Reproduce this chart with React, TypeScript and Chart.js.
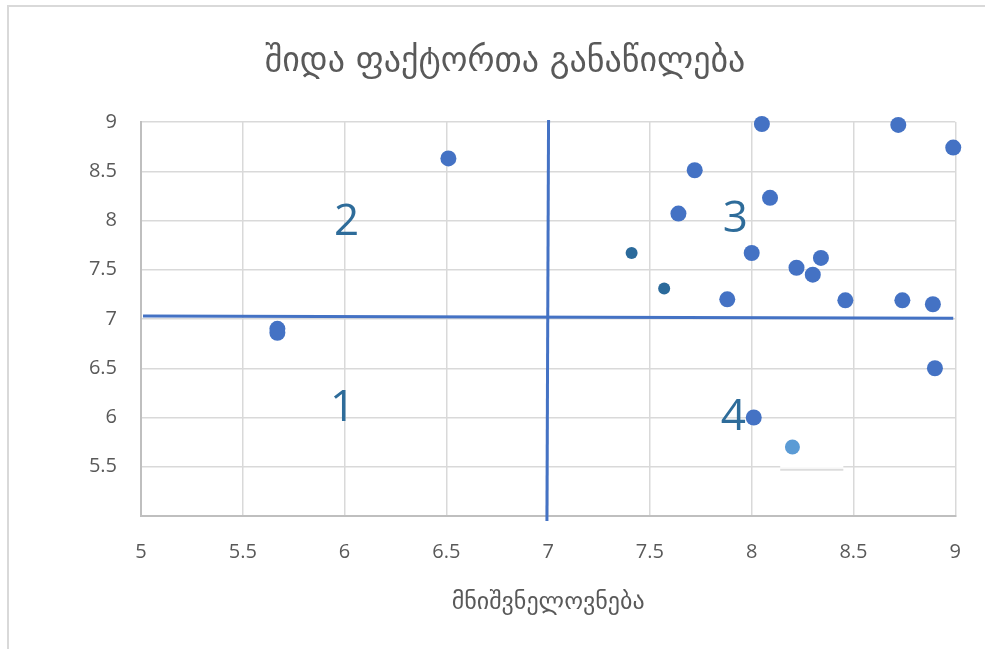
import React, { useEffect, useRef } from "react";
import { Chart, registerables } from "chart.js";

Chart.register(...registerables);

const TITLE = "შიდა ფაქტორთა განაწილება";
const X_TITLE = "მნიშვნელოვნება";

const mainX = [6.51, 5.67, 5.67, 8.05, 8.72, 8.99, 7.72, 7.64, 8.09, 8.0, 7.88, 8.22, 8.34, 8.3, 8.46, 8.74, 8.89, 8.9, 8.01];
const mainY = [8.63, 6.9, 6.86, 8.98, 8.97, 8.74, 8.51, 8.07, 8.23, 7.67, 7.2, 7.52, 7.62, 7.45, 7.19, 7.19, 7.15, 6.5, 6.0];
const smallX = [7.41, 7.57];
const smallY = [7.67, 7.31];
const lightX = [8.2];
const lightY = [5.7];

const hLineX = [5.01, 8.99];
const hLineY = [7.03, 7.007];
const vLineX = [7.002, 6.994];
const vLineY = [9.02, 4.95];

const quadLabels = ["1", "2", "3", "4"];
const quadX = [5.99, 6.01, 7.92, 7.91];
const quadY = [6.12, 8.01, 8.04, 6.03];

const axisMin = 5;
const axisMax = 9;
const axisStep = 0.5;

const zip = (xs: number[], ys: number[]) => xs.map((x, i) => ({ x, y: ys[i] }));
const fmt = (v: any) => String(Number(v));

const quadrantPlugin = {
  id: "quadrantLabels",
  beforeDatasetsDraw(chart: any) {
    const { ctx, scales } = chart;
    const xs = scales.x;
    const ys = scales.y;
    const gy = ys.getPixelForValue(5.5);
    const x1 = xs.getPixelForValue(8.14);
    const x2 = xs.getPixelForValue(8.45);
    ctx.save();
    ctx.strokeStyle = "#ffffff";
    ctx.lineWidth = 2;
    ctx.beginPath();
    ctx.moveTo(x1, gy);
    ctx.lineTo(x2, gy);
    ctx.stroke();
    ctx.strokeStyle = "#DCDCDC";
    ctx.lineWidth = 2;
    ctx.beginPath();
    ctx.moveTo(x1, gy + 3);
    ctx.lineTo(x2, gy + 3);
    ctx.stroke();
    ctx.restore();
  },
  afterDatasetsDraw(chart: any) {
    const { ctx, scales } = chart;
    const size = 44;
    ctx.save();
    ctx.font = `${size}px 'Open Sans', sans-serif`;
    ctx.fillStyle = "#2E6C9A";
    ctx.textAlign = "center";
    ctx.textBaseline = "alphabetic";
    quadLabels.forEach((t, i) => {
      const px = scales.x.getPixelForValue(quadX[i]);
      const py = scales.y.getPixelForValue(quadY[i]);
      ctx.fillText(t, px, py + (size * 0.714) / 2);
    });
    ctx.restore();
  },
};

export default function App() {
  const ref = useRef<HTMLCanvasElement | null>(null);

  useEffect(() => {
    const canvas = ref.current;
    if (!canvas) return;
    const chart = new Chart(canvas, {
      type: "scatter",
      data: {
        datasets: [
          {
            label: "h",
            data: zip(hLineX, hLineY),
            showLine: true,
            borderColor: "#4472C4",
            borderWidth: 3,
            pointRadius: 0,
            clip: false as any,
          },
          {
            label: "v",
            data: zip(vLineX, vLineY),
            showLine: true,
            borderColor: "#4472C4",
            borderWidth: 3,
            pointRadius: 0,
            clip: false as any,
          },
          {
            label: "main",
            data: zip(mainX, mainY),
            backgroundColor: "#4472C4",
            borderColor: "#4472C4",
            borderWidth: 0,
            pointRadius: 8,
            clip: false as any,
          },
          {
            label: "small",
            data: zip(smallX, smallY),
            backgroundColor: "#2B6A9B",
            borderColor: "#2B6A9B",
            borderWidth: 0,
            pointRadius: 6,
          },
          {
            label: "light",
            data: zip(lightX, lightY),
            backgroundColor: "#5B9BD5",
            borderColor: "#5B9BD5",
            borderWidth: 0,
            pointRadius: 7.5,
          },
        ],
      },
      options: {
        animation: false,
        responsive: false,
        devicePixelRatio: 1,
        layout: { padding: { left: 42, right: 17, top: 0, bottom: 0 } },
        plugins: {
          legend: { display: false },
          tooltip: { enabled: false },
          title: {
            display: true,
            text: TITLE,
            color: "#595959",
            font: { size: 34, family: "'DejaVu Sans', sans-serif", weight: "normal", lineHeight: 1.2 },
            padding: { top: 42, bottom: 39.2 },
          },
        },
        scales: {
          x: {
            type: "linear",
            min: axisMin,
            max: axisMax,
            ticks: {
              stepSize: axisStep,
              color: "#595959",
              font: { size: 20, family: "'Open Sans', sans-serif" },
              padding: 24,
              maxRotation: 0,
              callback: fmt,
            },
            grid: { color: "#D9D9D9", lineWidth: 1.5, drawTicks: false },
            border: { color: "#BFBFBF", width: 2 },
            title: {
              display: true,
              text: X_TITLE,
              color: "#595959",
              font: { size: 24, family: "'DejaVu Sans', sans-serif", lineHeight: 1.2 },
              padding: { top: 0, bottom: 32 },
            },
            afterFit: (s: any) => {
              s.height = 133;
            },
          },
          y: {
            type: "linear",
            min: axisMin,
            max: axisMax,
            ticks: {
              stepSize: axisStep,
              color: "#595959",
              font: { size: 20, family: "'Open Sans', sans-serif" },
              padding: 24,
              callback: (v: any) => (Number(v) === axisMin ? "" : fmt(v)),
            },
            grid: { color: "#D9D9D9", lineWidth: 1.5, drawTicks: false },
            border: { color: "#BFBFBF", width: 2 },
            afterFit: (s: any) => {
              s.width = 99;
            },
          },
        },
      } as any,
      plugins: [quadrantPlugin],
    });
    return () => chart.destroy();
  }, []);

  return (
    <div
      style={{
        position: "fixed",
        left: 0,
        top: 0,
        width: 985,
        height: 649,
        overflow: "hidden",
        background: "#ffffff",
      }}
    >
      <div
        style={{
          position: "absolute",
          left: 7,
          top: 5,
          width: 1100,
          height: 800,
          borderTop: "2px solid #D9D9D9",
          borderLeft: "2px solid #D9D9D9",
        }}
      />
      <canvas
        ref={ref}
        width={985}
        height={649}
        style={{ position: "absolute", left: 0, top: 0, width: 985, height: 649 }}
      />
    </div>
  );
}
